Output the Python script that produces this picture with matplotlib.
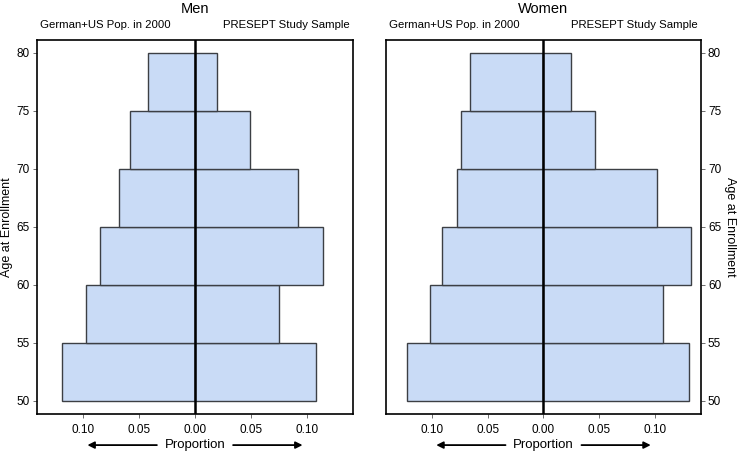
import matplotlib
matplotlib.use("Agg")
import matplotlib.pyplot as plt
import numpy as np

plt.rcParams['font.family'] = ['Liberation Sans', 'DejaVu Sans']

# lower edge of each 5-year age band
age_start = [50, 55, 60, 65, 70, 75]
band = 5

# proportions
men_pop = [0.119, 0.097, 0.085, 0.068, 0.058, 0.042]
men_study = [0.108, 0.075, 0.114, 0.092, 0.049, 0.020]
women_pop = [0.122, 0.102, 0.091, 0.077, 0.074, 0.066]
women_study = [0.130, 0.107, 0.132, 0.102, 0.046, 0.025]

xticks = [-0.10, -0.05, 0.0, 0.05, 0.10]
xticklabels = ["0.10", "0.05", "0.00", "0.05", "0.10"]
yticks = [50, 55, 60, 65, 70, 75, 80]

fill = "#c9dbf6"
edge = "#3c3f44"

fig = plt.figure(figsize=(7.4, 4.55), dpi=100)
ax_m = fig.add_axes([0.05, 0.090, 0.427, 0.822])
ax_w = fig.add_axes([0.5216, 0.090, 0.4257, 0.822])


def draw_panel(ax, pop, study, title, side):
    ax.barh(age_start, [-p for p in pop], height=band, left=0, align='edge',
            color=fill, edgecolor=edge, linewidth=1.0)
    ax.barh(age_start, study, height=band, left=0, align='edge',
            color=fill, edgecolor=edge, linewidth=1.0)
    ax.axvline(0, color='black', linewidth=1.8)
    ax.set_xlim(-0.141, 0.141)
    ax.set_ylim(48.85, 81.1)
    ax.set_xticks(xticks)
    ax.set_xticklabels(xticklabels)
    ax.set_yticks(yticks)
    for s in ax.spines.values():
        s.set_linewidth(1.2)
        s.set_color('black')
    ax.tick_params(axis='both', labelsize=8.5, length=3, width=0.6, color='#555555', pad=2)
    ax.tick_params(axis='x', pad=4)
    if side == 'right':
        ax.yaxis.tick_right()
        ax.yaxis.set_label_position('right')
        ax.set_ylabel("Age at Enrollment", fontsize=9, rotation=270, labelpad=11)
    else:
        ax.set_ylabel("Age at Enrollment", fontsize=9, labelpad=3)

    ax.text(0.5, 1.083, title, transform=ax.transAxes, ha='center', va='center', fontsize=10.5)
    ax.text(0.01, 1.04, "German+US Pop. in 2000", transform=ax.transAxes,
            ha='left', va='center', fontsize=8.2)
    ax.text(0.99, 1.04, "PRESEPT Study Sample", transform=ax.transAxes,
            ha='right', va='center', fontsize=8.2)

    # x label with arrows pointing outwards
    ax.text(0, -0.083, "Proportion", transform=ax.get_xaxis_transform(),
            ha='center', va='center', fontsize=9.5)
    for tail, head in [(-0.034, -0.096), (0.034, 0.096)]:
        ax.annotate("", xy=(head, -0.083), xytext=(tail, -0.083),
                    xycoords=('data', 'axes fraction'), textcoords=('data', 'axes fraction'),
                    arrowprops=dict(arrowstyle='-|>', color='black', lw=1.3,
                                    mutation_scale=10, shrinkA=0, shrinkB=0),
                    annotation_clip=False)


draw_panel(ax_m, men_pop, men_study, "Men", 'left')
draw_panel(ax_w, women_pop, women_study, "Women", 'right')

fig.savefig("out.png", dpi=100)
